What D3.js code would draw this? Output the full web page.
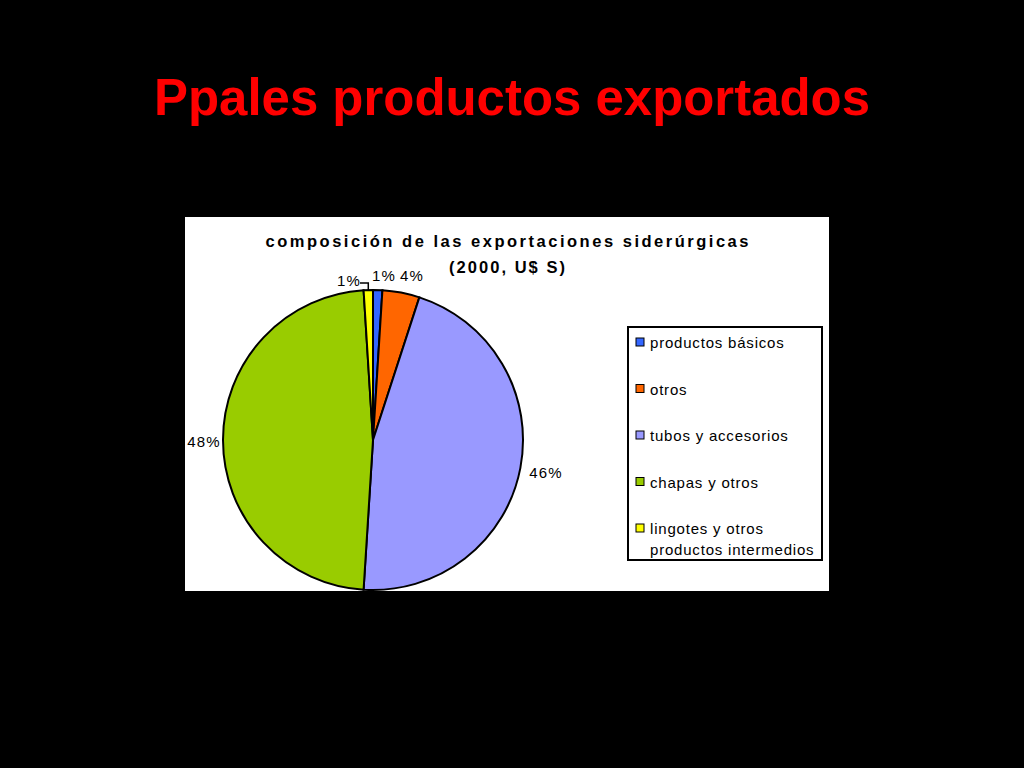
<!DOCTYPE html>
<html>
<head>
<meta charset="utf-8">
<script src="https://cdn.jsdelivr.net/npm/d3@7"></script>
<style>
  body { margin: 0; background: #000; }
  svg { display: block; }
</style>
</head>
<body>
<svg width="1024" height="768"></svg>
<script>
'use strict';

// data
var categories = ['productos básicos', 'otros', 'tubos y accesorios', 'chapas y otros', 'lingotes y otros productos intermedios'];
var shares = [1.0, 4.0, 46.0, 48.0, 1.0];
var labels = ['1%', '4%', '46%', '48%', '1%'];
var colors = ['#3366ff', '#ff6600', '#9999ff', '#99cc00', '#ffff00'];

var svg = d3.select('svg');

svg.append('rect').attr('width', 1024).attr('height', 768).attr('fill', '#000');

svg.append('text')
  .attr('x', 512).attr('y', 115)
  .attr('text-anchor', 'middle')
  .attr('font-family', 'Liberation Sans, Arial, sans-serif')
  .attr('font-weight', 'bold')
  .attr('font-size', 52)
  .attr('fill', '#ff0000')
  .attr('textLength', 716).attr('lengthAdjust', 'spacingAndGlyphs')
  .text('Ppales productos exportados');

// white chart area
svg.append('rect')
  .attr('x', 185).attr('y', 217).attr('width', 644).attr('height', 374)
  .attr('fill', '#fff');

var ttl = svg.append('g')
  .attr('font-family', 'Liberation Sans, Arial, sans-serif')
  .attr('font-weight', 'bold')
  .attr('font-size', 16.5)
  .attr('fill', '#000')
  .attr('text-anchor', 'middle');
ttl.append('text').attr('x', 507).attr('y', 247)
  .attr('textLength', 483).attr('lengthAdjust', 'spacing')
  .text('composición de las exportaciones siderúrgicas');
ttl.append('text').attr('x', 507).attr('y', 273)
  .attr('textLength', 116).attr('lengthAdjust', 'spacing')
  .text('(2000, U$ S)');

// pie
var cx = 373, cy = 440, r = 150;
var pie = d3.pie().sort(null).value(function(d){ return d; });
var arcs = pie(shares);
var arc = d3.arc().innerRadius(0).outerRadius(r);

var g = svg.append('g').attr('transform', 'translate(' + cx + ',' + cy + ')');
g.selectAll('path')
  .data(arcs)
  .enter().append('path')
  .attr('d', arc)
  .attr('fill', function(d, i){ return colors[i]; })
  .attr('stroke', '#000')
  .attr('stroke-width', 2);

// label positions
var labelPos = [
  {x: 384, y: 281},
  {x: 412, y: 281},
  {x: 546, y: 478},
  {x: 204, y: 447},
  {x: 349, y: 286}
];
var lab = svg.append('g')
  .attr('font-family', 'Liberation Sans, Arial, sans-serif')
  .attr('font-size', 15)
  .attr('letter-spacing', 1.2)
  .attr('fill', '#000')
  .attr('text-anchor', 'middle');
lab.selectAll('text')
  .data(labels)
  .enter().append('text')
  .attr('x', function(d, i){ return labelPos[i].x; })
  .attr('y', function(d, i){ return labelPos[i].y; })
  .text(function(d){ return d; });

// leader line for the yellow slice
var yMid = (arcs[4].startAngle + arcs[4].endAngle) / 2;
var ex = cx + Math.sin(yMid) * r, ey = cy - Math.cos(yMid) * r;
svg.append('path')
  .attr('d', 'M' + ex + ',' + ey + ' L' + ex + ',' + 283 + ' L' + 360 + ',' + 283)
  .attr('fill', 'none').attr('stroke', '#000').attr('stroke-width', 1.5);

// legend
svg.append('rect')
  .attr('x', 628).attr('y', 327).attr('width', 194).attr('height', 233)
  .attr('fill', '#fff').attr('stroke', '#000').attr('stroke-width', 2);

var legRows = [
  ['productos básicos'],
  ['otros'],
  ['tubos y accesorios'],
  ['chapas y otros'],
  ['lingotes y otros', 'productos intermedios']
];
var leg = svg.append('g')
  .attr('font-family', 'Liberation Sans, Arial, sans-serif')
  .attr('font-size', 15)
  .attr('letter-spacing', 0.8)
  .attr('fill', '#000');
var rowY = d3.scaleLinear().domain([0, 4]).range([343, 529]);
categories.forEach(function(c, i){
  var y = rowY(i);
  leg.append('rect')
    .attr('x', 636).attr('y', y - 5).attr('width', 8).attr('height', 8)
    .attr('fill', colors[i]).attr('stroke', '#000').attr('stroke-width', 1);
  legRows[i].forEach(function(line, k){
    leg.append('text')
      .attr('x', 650).attr('y', y + 5 + k * 21)
      .text(line);
  });
});
</script>
</body>
</html>
